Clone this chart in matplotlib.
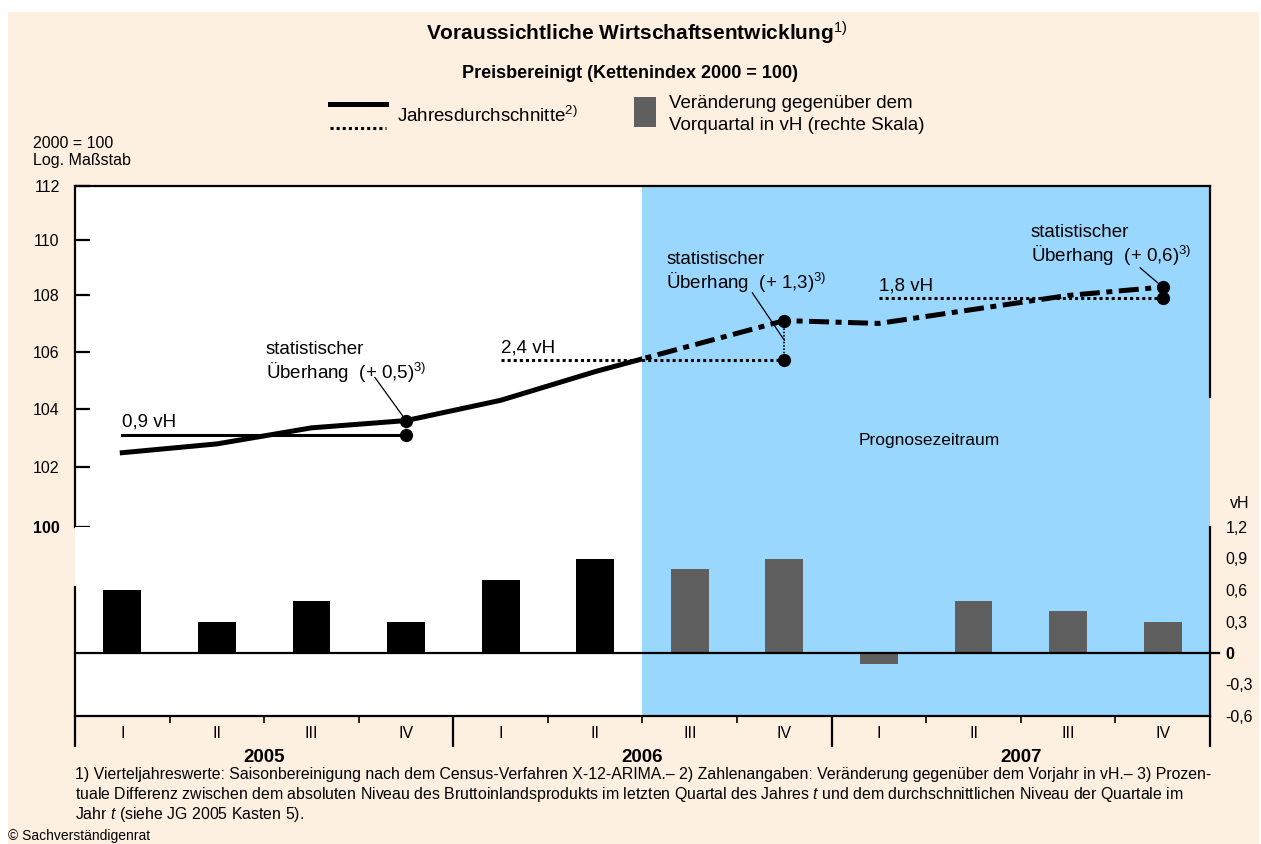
import matplotlib.pyplot as plt
import matplotlib.transforms as mtransforms
import numpy as np
from matplotlib.lines import Line2D
from matplotlib.patches import Rectangle
from matplotlib.ticker import FixedLocator, NullFormatter

plt.rcParams['font.family'] = ['Liberation Sans', 'DejaVu Sans']
plt.rcParams['mathtext.fontset'] = 'custom'
plt.rcParams['mathtext.rm'] = 'Liberation Sans'
plt.rcParams['mathtext.it'] = 'Liberation Sans:italic'
plt.rcParams['mathtext.bf'] = 'Liberation Sans:bold'

# data
quartale = ['I', 'II', 'III', 'IV'] * 3
jahre = ['2005', '2006', '2007']
bip = [102.5, 102.8, 103.35, 103.6, 104.3, 105.3, 106.2, 107.1, 107.0, 107.5, 108.0, 108.3]
veraenderung = [0.6, 0.3, 0.5, 0.3, 0.7, 0.9, 0.8, 0.9, -0.1, 0.5, 0.4, 0.3]
jahresdurchschnitt = [103.1, 105.7, 107.9]
jahreswachstum = ['0,9', '2,4', '1,8']
ueberhang = ['0,5', '1,3', '0,6']
yticks_links = [100, 102, 104, 106, 108, 110, 112]
yticks_rechts = [-0.6, -0.3, 0, 0.3, 0.6, 0.9, 1.2]
prognose_start = 6  # first forecast quarter (2006 III)

CREAM = '#fef0e0'
BLUE = '#99d7ff'
GRAY = '#5f5f5f'

W, H = 1261, 844
fig = plt.figure(figsize=(W / 100, H / 100), dpi=100)
fig.patch.set_facecolor('white')
fig.add_artist(Rectangle((8 / W, 0), 1 - 10 / W, 1 - 12 / H, transform=fig.transFigure,
                         facecolor=CREAM, edgecolor='none', zorder=-10))


def px_axes(x0, y0, x1, y1):
    return fig.add_axes([x0 / W, 1 - y1 / H, (x1 - x0) / W, (y1 - y0) / H])


x = np.arange(len(bip))
xmin, xmax = -0.5, len(bip) - 0.5

# ---- upper panel: index, log scale ----
ax = px_axes(75, 186, 1210, 527)
ax.set_yscale('log')
ax.set_ylim(100, 112)
ax.set_xlim(xmin, xmax)
ax.axvspan(prognose_start - 0.5, xmax, color=BLUE, lw=0, zorder=0)

blend = mtransforms.blended_transform_factory(ax.transData, ax.transAxes)
clip_ist = Rectangle((xmin, 0), prognose_start, 1, transform=blend)
clip_prog = Rectangle((prognose_start - 0.5, 0), xmax, 1, transform=blend)
l1, = ax.plot(x, bip, color='k', lw=3.6, zorder=4)
l1.set_clip_path(clip_ist)
l2, = ax.plot(x, bip, color='k', lw=3.6, ls=(0, (4, 1.3, 1.2, 1.3)), zorder=4)
l2.set_clip_path(clip_prog)

for k, avg in enumerate(jahresdurchschnitt):
    i0, i1 = 4 * k, 4 * k + 3
    ls = '-' if k == 0 else (0, (1, 1))
    ax.plot([i0, i1], [avg, avg], color='k', lw=2.2, ls=ls, zorder=3)
    ax.plot([i1, i1], [avg, bip[i1]], color='k', lw=1.2, ls=(0, (1, 1)), zorder=3)
    ax.plot([i1, i1], [avg, bip[i1]], 'o', color='k', ms=8.5, zorder=5)
    ax.annotate(f'{jahreswachstum[k]} vH', xy=(i0, avg), xytext=(0, 3),
                textcoords='offset points', ha='left', va='bottom', fontsize=13.5)

# overhang labels with leader lines
ueb_text_pos = [(0.168, 0.545), (0.521, 0.810), (0.842, 0.888)]
ueb_leader = [((2.67, 105.1), (3, bip[3])), ((6.66, 108.1), (7, 106.4)), ((10.76, 109.0), (11, bip[11]))]
for k in range(3):
    tx, ty = ueb_text_pos[k]
    ax.text(tx, ty, 'statistischer\n' + f'Überhang  (+ {ueberhang[k]})' + r'$^{3)}$',
            transform=ax.transAxes, ha='left', va='top', fontsize=13.5, linespacing=1.15)
    (sx, sy), (ex, ey) = ueb_leader[k]
    ax.annotate('', xy=(ex, ey), xytext=(sx, sy),
                arrowprops=dict(arrowstyle='-', lw=0.9, color='k', shrinkA=0, shrinkB=0), zorder=6)

ax.text(0.753, 0.255, 'Prognosezeitraum', transform=ax.transAxes, ha='center', va='center',
        fontsize=12.5)

ax.set_xticks([])
ax.set_yticks(yticks_links, [str(v) for v in yticks_links])
ax.yaxis.set_minor_locator(FixedLocator([100]))
ax.yaxis.set_minor_formatter(NullFormatter())
ax.tick_params(axis='y', which='major', direction='in', length=11, width=1.6, pad=11, labelsize=11.5)
ax.tick_params(axis='y', which='minor', direction='out', length=6, width=1.6)
ax.get_yticklabels()[0].set_fontweight('bold')
ax.spines['bottom'].set_visible(False)
ax.spines['right'].set_bounds(104.4, 112)
for s in ['top', 'left', 'right']:
    ax.spines[s].set_linewidth(1.6)

# ---- lower panel: quarterly change, right axis ----
axb = px_axes(75, 527, 1210, 716)
axb.set_xlim(xmin, xmax)
axb.set_ylim(-0.6, 1.2)
axb.axvspan(prognose_start - 0.5, xmax, color=BLUE, lw=0, zorder=0)
farben = ['k' if i < prognose_start else GRAY for i in x]
axb.bar(x, veraenderung, width=0.4, color=farben, zorder=2)
axb.axhline(0, color='k', lw=1.6, xmax=1.008, clip_on=False, zorder=3)

axb.yaxis.tick_right()
labels_r = ['0' if v == 0 else f'{v:.1f}'.replace('.', ',') for v in yticks_rechts]
axb.set_yticks(yticks_rechts, labels_r)
axb.tick_params(axis='y', length=0, pad=11, labelsize=11.5)
axb.get_yticklabels()[2].set_fontweight('bold')
axb.spines['top'].set_visible(False)
axb.spines['left'].set_bounds(-0.6, 0.63)
for s in ['bottom', 'left', 'right']:
    axb.spines[s].set_linewidth(1.6)

grenzen_jahr = [xmin + 4 * k for k in range(4)]
grenzen_q = [xmin + i for i in range(1, len(bip)) if i % 4 != 0]
axb.set_xticks(grenzen_jahr)
axb.xaxis.set_minor_locator(FixedLocator(grenzen_q))
axb.tick_params(axis='x', which='major', direction='out', length=22, width=1.6, labelbottom=False)
axb.tick_params(axis='x', which='minor', direction='out', length=5, width=1.2)

tb = mtransforms.blended_transform_factory(axb.transData, fig.transFigure)
for i, q in enumerate(quartale):
    axb.text(i, 1 - 733 / H, q, transform=tb, ha='center', va='center', fontsize=11.5)
for k, j in enumerate(jahre):
    axb.text(4 * k + 1.5, 1 - 757 / H, j, transform=tb, ha='center', va='center',
             fontsize=13.5, fontweight='bold')

fig.text(1230 / W, 1 - 503 / H, 'vH', ha='left', va='center', fontsize=11.5)

# ---- titles, legend, notes ----
fig.text(0.505, 1 - 33 / H, r'Voraussichtliche Wirtschaftsentwicklung$^{1)}$', ha='center',
         va='center', fontsize=15, fontweight='bold')
fig.text(0.5, 1 - 73 / H, 'Preisbereinigt (Kettenindex 2000 = 100)', ha='center', va='center',
         fontsize=13, fontweight='bold')

fig.add_artist(Line2D([330 / W, 386 / W], [1 - 104 / H] * 2, color='k', lw=3.6))
fig.add_artist(Line2D([330 / W, 386 / W], [1 - 128 / H] * 2, color='k', lw=2.2, ls=(0, (1, 1))))
fig.text(397 / W, 1 - 116 / H, r'Jahresdurchschnitte$^{2)}$', ha='left', va='center', fontsize=13.5)
fig.add_artist(Rectangle((634 / W, 1 - 127 / H), 22 / W, 30 / H, transform=fig.transFigure,
                         facecolor=GRAY, edgecolor='none'))
fig.text(669 / W, 1 - 103 / H, 'Veränderung gegenüber dem', ha='left', va='center', fontsize=13.5)
fig.text(669 / W, 1 - 126 / H, 'Vorquartal in vH (rechte Skala)', ha='left', va='center', fontsize=13.5)

fig.text(33 / W, 1 - 143 / H, '2000 = 100', ha='left', va='center', fontsize=11.5)
fig.text(33 / W, 1 - 161 / H, 'Log. Maßstab', ha='left', va='center', fontsize=11.5)

fussnoten = [
    '1) Vierteljahreswerte: Saisonbereinigung nach dem Census-Verfahren X-12-ARIMA.– 2) Zahlenangaben: '
    'Veränderung gegenüber dem Vorjahr in vH.– 3) Prozen-',
    'tuale Differenz zwischen dem absoluten Niveau des Bruttoinlandsprodukts im letzten Quartal des Jahres '
    r'$t$ und dem durchschnittlichen Niveau der Quartale im',
    r'Jahr $t$ (siehe JG 2005 Kasten 5).',
]
for n, zeile in enumerate(fussnoten):
    fig.text(75 / W, 1 - (775 + 20 * n) / H, zeile, ha='left', va='center', fontsize=11.4)
fig.text(8 / W, 1 - 836 / H, '© Sachverständigenrat', ha='left', va='center', fontsize=10)

fig.savefig('out.png', dpi=100)
